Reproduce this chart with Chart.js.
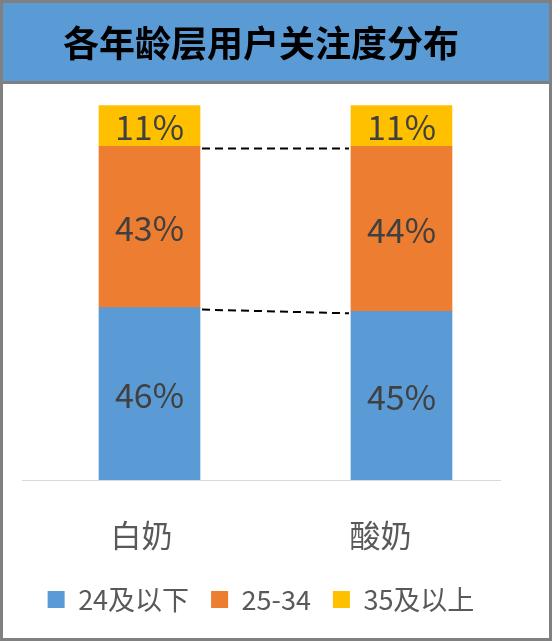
<!DOCTYPE html>
<html>
<head>
<meta charset="utf-8">
<script src="https://cdn.jsdelivr.net/npm/chart.js@4.4.1/dist/chart.umd.min.js"></script>
<style>
  html, body { margin: 0; padding: 0; background: #ffffff; }
  #wrap { width: 552px; height: 641px; position: relative; }
</style>
</head>
<body>
<div id="wrap"><canvas id="c" width="552" height="641"></canvas></div>
<script>
const titleText = '各年龄层用户关注度分布';
const categories = ['白奶', '酸奶'];
const seriesNames = ['24及以下', '25-34', '35及以上'];
const young = [46, 45];
const middle = [43, 44];
const senior = [11, 11];
const seriesColors = ['#5B9BD5', '#ED7D31', '#FFC000'];

const FONT = '"Noto Sans CJK SC", "Microsoft YaHei", sans-serif';

const framePlugin = {
  id: 'frame',
  beforeDraw(chart) {
    const ctx = chart.ctx;
    const w = chart.width, h = chart.height;
    ctx.save();
    ctx.fillStyle = '#ffffff';
    ctx.fillRect(0, 0, w, h);
    ctx.fillStyle = '#5B9BD5';
    ctx.fillRect(0, 0, w, 82);
    ctx.fillStyle = '#808080';
    ctx.fillRect(0, 81, w, 3);
    ctx.restore();
  },
  afterDraw(chart) {
    const ctx = chart.ctx;
    ctx.save();
    ctx.strokeStyle = '#808080';
    ctx.lineWidth = 3;
    ctx.strokeRect(1.5, 1.5, chart.width - 3, chart.height - 3);
    ctx.restore();
  }
};

const seriesLinePlugin = {
  id: 'seriesLines',
  afterDatasetsDraw(chart) {
    const ctx = chart.ctx;
    ctx.save();
    ctx.strokeStyle = '#000000';
    ctx.lineWidth = 2;
    ctx.setLineDash([8, 5]);
    for (let d = 0; d < 2; d++) {
      const els = chart.getDatasetMeta(d).data;
      for (let i = 0; i < els.length - 1; i++) {
        const a = els[i], b = els[i + 1];
        ctx.beginPath();
        ctx.moveTo(a.x + a.width / 2 + 2, a.y + 2);
        ctx.lineTo(b.x - b.width / 2 - 2, b.y + 2);
        ctx.stroke();
      }
    }
    ctx.restore();
  }
};

const valueLabelPlugin = {
  id: 'valueLabels',
  afterDatasetsDraw(chart) {
    const ctx = chart.ctx;
    ctx.save();
    ctx.font = '34px ' + FONT;
    ctx.fillStyle = '#404040';
    ctx.textAlign = 'center';
    ctx.textBaseline = 'middle';
    chart.data.datasets.forEach((ds, d) => {
      chart.getDatasetMeta(d).data.forEach((el, i) => {
        const v = ds.data[i].y;
        ctx.fillText(v + '%', el.x, (el.y + el.base) / 2 + 1);
      });
    });
    ctx.restore();
  }
};

const toPoints = arr => arr.map((v, i) => ({ x: i, y: v }));

new Chart(document.getElementById('c'), {
  type: 'bar',
  data: {
    labels: categories,
    datasets: [
      { label: seriesNames[0], data: toPoints(young), backgroundColor: seriesColors[0], xAxisID: 'xb' },
      { label: seriesNames[1], data: toPoints(middle), backgroundColor: seriesColors[1], xAxisID: 'xb' },
      { label: seriesNames[2], data: toPoints(senior), backgroundColor: seriesColors[2], xAxisID: 'xb' }
    ]
  },
  options: {
    responsive: false,
    animation: false,
    devicePixelRatio: 1,
    layout: { padding: { left: 22, right: 52, top: 0, bottom: 18 } },
    datasets: { bar: { barThickness: 101, borderWidth: 0 } },
    scales: {
      x: {
        type: 'category',
        position: 'bottom',
        offset: true,
        grid: { display: false, drawTicks: false },
        border: { display: true, color: '#D9D9D9', width: 1 },
        ticks: { color: '#595959', font: { family: FONT, size: 31 }, padding: 37 },
        afterFit(scale) { scale.height = 84; }
      },
      xb: {
        type: 'linear',
        display: false,
        offset: false,
        stacked: true,
        min: -0.506,
        max: 1.391
      },
      y: {
        display: false,
        stacked: true,
        min: 0,
        max: 100
      }
    },
    plugins: {
      title: {
        display: true,
        text: titleText,
        color: '#000000',
        font: { family: FONT, size: 36, weight: 'bold' },
        padding: { top: 22, bottom: 40 }
      },
      legend: {
        display: true,
        position: 'bottom',
        labels: {
          color: '#595959',
          font: { family: FONT, size: 27 },
          boxWidth: 17,
          boxHeight: 17,
          padding: 22
        }
      },
      tooltip: { enabled: false }
    }
  },
  plugins: [framePlugin, seriesLinePlugin, valueLabelPlugin]
});
</script>
</body>
</html>
